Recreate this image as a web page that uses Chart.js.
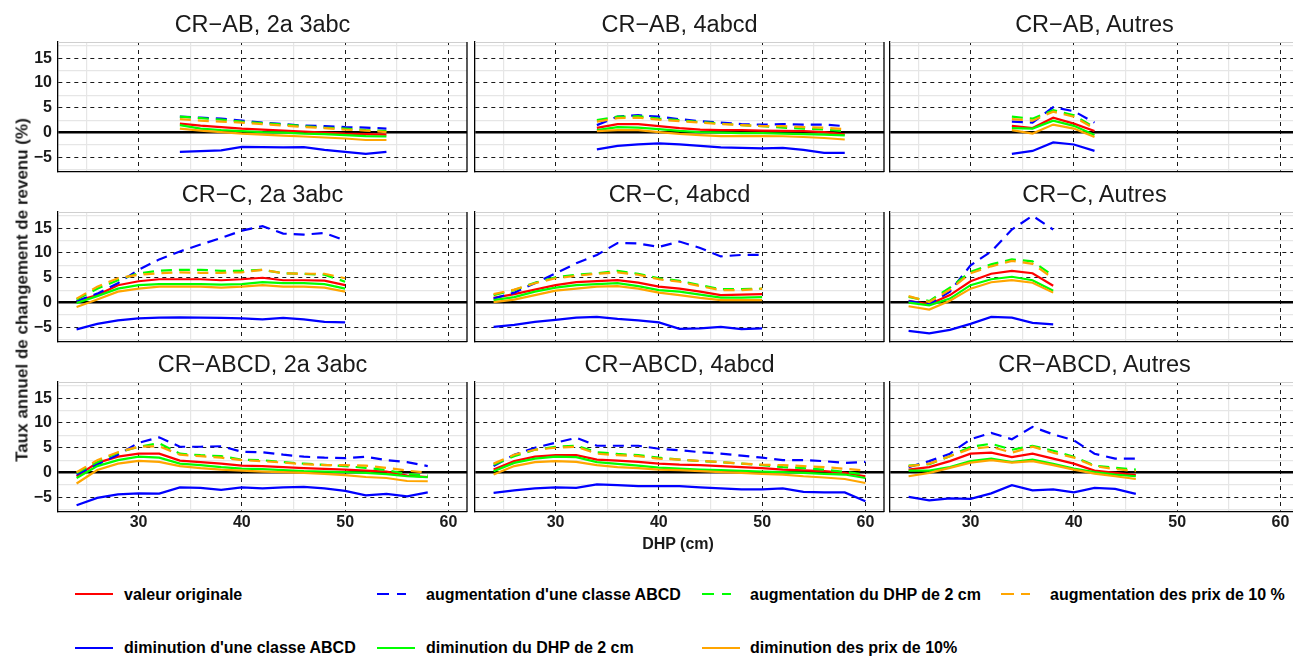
<!DOCTYPE html>
<html lang="fr">
<head>
<meta charset="utf-8">
<title>Taux annuel de changement de revenu</title>
<script src="https://cdn.jsdelivr.net/npm/chart.js@4.4.1/dist/chart.umd.min.js"></script>
<style>
  html, body { margin: 0; padding: 0; background: #ffffff; overflow: hidden; width: 1293px; height: 656px; }
  body { position: relative; font-family: 'Liberation Sans', Arial, Helvetica, sans-serif; color: #1a1a1a; }
  canvas { position: absolute; }
  .title { position: absolute; font-size: 23.5px; line-height: 23.5px; white-space: nowrap; transform: translateX(-50%); }
  .ytitle { position: absolute; font-weight: bold; font-size: 17px; line-height: 17px; white-space: nowrap;
            transform: translate(-50%, -50%) rotate(-90deg); }
  .xtitle { position: absolute; font-weight: bold; font-size: 16px; line-height: 16px; white-space: nowrap; transform: translateX(-50%); }
  .leg-key { position: absolute; height: 2.4px; }
  .leg-text { position: absolute; font-weight: bold; font-size: 16px; line-height: 16px; white-space: nowrap; color: #000; }
</style>
</head>
<body>
<script>
// Facet titles, row by row (CR group) and column by column (site group)
const panelTitles = [
  'CR\u2212AB, 2a 3abc', 'CR\u2212AB, 4abcd', 'CR\u2212AB, Autres',
  'CR\u2212C, 2a 3abc', 'CR\u2212C, 4abcd', 'CR\u2212C, Autres',
  'CR\u2212ABCD, 2a 3abc', 'CR\u2212ABCD, 4abcd', 'CR\u2212ABCD, Autres'
];

// DHP classes (cm) present in each facet
const dhp = [
  [34, 36, 38, 40, 42, 44, 46, 48, 50, 52, 54],
  [34, 36, 38, 40, 42, 44, 46, 48, 50, 52, 54, 56, 58],
  [34, 36, 38, 40, 42],
  [24, 26, 28, 30, 32, 34, 36, 38, 40, 42, 44, 46, 48, 50],
  [24, 26, 28, 30, 32, 34, 36, 38, 40, 42, 44, 46, 48, 50],
  [24, 26, 28, 30, 32, 34, 36, 38],
  [24, 26, 28, 30, 32, 34, 36, 38, 40, 42, 44, 46, 48, 50, 52, 54, 56, 58],
  [24, 26, 28, 30, 32, 34, 36, 38, 40, 42, 44, 46, 48, 50, 52, 54, 56, 58, 60],
  [24, 26, 28, 30, 32, 34, 36, 38, 40, 42, 44, 46]
];

// Annual revenue change rate (%) per scenario, one sub-array per facet
const valeurOriginale = [
  [1.8, 1.4, 1.1, 0.8, 0.6, 0.4, 0.2, 0.0, -0.2, -0.3, -0.4],
  [0.95, 1.7, 1.7, 1.3, 0.9, 0.6, 0.5, 0.5, 0.4, 0.35, 0.3, 0.1, -0.35],
  [1.35, 0.9, 3.0, 1.8, 0.3],
  [0.3, 1.5, 3.5, 4.3, 4.7, 4.7, 4.7, 4.5, 4.7, 5.0, 4.5, 4.5, 4.4, 3.5],
  [0.95, 1.7, 2.6, 3.5, 4.1, 4.3, 4.5, 4.0, 3.2, 2.8, 2.2, 1.5, 1.6, 1.7],
  [0.35, -0.35, 1.5, 4.3, 5.8, 6.4, 5.9, 3.4],
  [-0.75, 1.95, 3.2, 3.8, 3.8, 2.4, 2.1, 1.8, 1.4, 1.3, 1.1, 0.9, 0.75, 0.6, 0.4, 0.2, -0.6, -0.9],
  [0.6, 2.3, 3.2, 3.5, 3.5, 2.6, 2.4, 2.15, 1.8, 1.6, 1.5, 1.3, 1.1, 0.9, 0.6, 0.45, 0.27, -0.07, -0.75],
  [0.6, 1.1, 2.3, 3.8, 4.0, 3.1, 3.8, 2.8, 1.8, 0.4, -0.07, -0.5]
];
const dimClasse = [
  [-3.9, -3.75, -3.6, -2.9, -2.95, -3.0, -2.95, -3.5, -3.9, -4.3, -3.9],
  [-3.4, -2.7, -2.4, -2.2, -2.4, -2.7, -3.0, -3.1, -3.2, -3.1, -3.5, -4.1, -4.1],
  [-4.3, -3.7, -2.0, -2.4, -3.7],
  [-5.4, -4.3, -3.6, -3.2, -3.05, -3.0, -3.05, -3.1, -3.2, -3.4, -3.1, -3.4, -3.9, -4.0],
  [-4.9, -4.5, -3.9, -3.5, -3.05, -2.9, -3.3, -3.6, -4.0, -5.3, -5.2, -4.9, -5.35, -5.2],
  [-5.7, -6.2, -5.5, -4.3, -2.9, -3.05, -4.1, -4.4],
  [-6.6, -5.1, -4.4, -4.2, -4.25, -3.0, -3.1, -3.5, -3.0, -3.2, -3.0, -2.9, -3.2, -3.7, -4.6, -4.3, -4.8, -4.0],
  [-4.1, -3.6, -3.2, -3.0, -3.1, -2.4, -2.55, -2.75, -2.75, -2.75, -3.0, -3.2, -3.4, -3.4, -3.2, -3.9, -4.0, -4.0, -5.8],
  [-4.9, -5.6, -5.2, -5.3, -4.2, -2.55, -3.6, -3.4, -4.0, -3.1, -3.3, -4.3]
];
const augClasse = [
  [3.2, 3.0, 2.8, 2.4, 2.0, 1.7, 1.4, 1.3, 1.1, 1.0, 0.8],
  [1.5, 3.2, 3.5, 3.2, 2.7, 2.3, 2.0, 1.7, 1.6, 1.7, 1.6, 1.6, 1.3],
  [2.2, 2.0, 5.1, 4.3, 2.0],
  [0.3, 1.8, 3.9, 6.6, 8.7, 10.3, 11.7, 13.0, 14.5, 15.4, 13.9, 13.7, 14.0, 12.5],
  [0.8, 2.0, 3.9, 5.9, 7.9, 9.6, 12.0, 11.9, 11.2, 12.3, 11.0, 9.3, 9.6, 9.6],
  [0.3, -0.35, 2.2, 7.5, 10.3, 14.7, 17.5, 14.7],
  [-0.4, 1.6, 3.6, 6.0, 7.1, 5.2, 5.2, 5.3, 4.2, 4.1, 3.6, 3.2, 3.0, 2.9, 3.2, 2.5, 2.1, 1.3],
  [1.3, 3.6, 5.0, 6.0, 7.0, 5.4, 5.4, 5.4, 4.8, 4.5, 4.1, 3.8, 3.4, 3.0, 2.5, 2.5, 2.3, 1.95, 2.15],
  [1.1, 2.3, 3.8, 6.7, 8.0, 6.7, 9.2, 7.7, 6.5, 3.8, 2.8, 2.8]
];
const dimDHP = [
  [1.5, 0.8, 0.5, 0.3, 0.1, 0.0, -0.2, -0.3, -0.5, -0.7, -0.8],
  [0.5, 1.1, 1.0, 0.7, 0.35, 0.1, 0.0, -0.1, -0.1, -0.2, -0.3, -0.4, -0.55],
  [0.9, 0.8, 2.4, 1.35, -0.5],
  [-0.1, 1.3, 2.8, 3.5, 3.7, 3.7, 3.7, 3.6, 3.7, 4.1, 3.9, 3.9, 3.7, 2.8],
  [0.5, 1.1, 2.2, 3.0, 3.5, 3.7, 3.9, 3.3, 2.5, 2.2, 1.6, 1.0, 1.0, 1.1],
  [0.0, -0.55, 0.8, 3.5, 4.7, 5.2, 4.5, 2.4],
  [-1.1, 1.3, 2.5, 3.2, 3.0, 1.8, 1.5, 1.1, 0.8, 0.7, 0.5, 0.3, 0.2, 0.07, -0.07, -0.3, -0.75, -0.95],
  [0.27, 1.95, 2.8, 3.2, 3.1, 2.1, 1.75, 1.4, 1.0, 0.8, 0.6, 0.47, 0.34, 0.2, 0.07, -0.07, -0.27, -0.4, -1.1],
  [0.4, 0.4, 1.1, 2.3, 2.8, 2.1, 2.6, 1.75, 0.8, 0.07, -0.4, -0.75]
];
const augDHP = [
  [3.2, 2.9, 2.6, 2.2, 1.9, 1.6, 1.3, 1.0, 0.8, 0.5, 0.3],
  [2.5, 3.2, 3.3, 2.8, 2.5, 2.1, 1.8, 1.5, 1.3, 1.0, 0.8, 0.6, 0.3],
  [3.2, 2.8, 4.5, 3.5, 1.0],
  [0.6, 2.8, 4.5, 5.9, 6.4, 6.6, 6.6, 6.4, 6.4, 6.6, 5.9, 5.8, 5.6, 4.2],
  [1.5, 2.5, 4.0, 5.1, 5.6, 5.9, 6.4, 5.8, 4.9, 4.4, 3.5, 2.7, 2.7, 2.8],
  [1.15, 0.3, 3.0, 6.2, 7.7, 8.7, 8.3, 5.4],
  [-0.07, 2.1, 4.0, 5.2, 5.9, 3.8, 3.5, 3.3, 2.6, 2.5, 2.1, 1.8, 1.55, 1.3, 0.95, 0.5, -0.3, -0.6],
  [1.6, 3.3, 4.6, 5.2, 5.4, 4.1, 3.75, 3.5, 3.0, 2.6, 2.3, 2.1, 1.8, 1.5, 1.1, 0.9, 0.6, 0.13, -0.4],
  [1.4, 1.7, 3.3, 5.2, 5.8, 4.6, 5.4, 4.4, 3.2, 1.4, 0.95, 0.6]
];
const dimPrix = [
  [0.8, 0.4, 0.1, -0.2, -0.4, -0.6, -0.8, -1.0, -1.2, -1.5, -1.5],
  [0.3, 0.5, 0.5, 0.1, -0.25, -0.5, -0.7, -0.7, -0.7, -0.75, -0.9, -1.1, -1.4],
  [0.5, -0.2, 1.6, 0.8, -0.9],
  [-0.9, 0.6, 2.2, 2.8, 3.2, 3.2, 3.2, 3.0, 3.2, 3.5, 3.2, 3.2, 3.0, 2.2],
  [0.1, 0.6, 1.5, 2.4, 2.8, 3.2, 3.3, 2.8, 2.0, 1.5, 0.95, 0.5, 0.5, 0.5],
  [-0.75, -1.4, 0.35, 2.8, 4.1, 4.5, 4.0, 2.0],
  [-2.2, 0.5, 1.8, 2.35, 2.15, 1.3, 0.9, 0.6, 0.4, 0.2, 0.07, -0.07, -0.27, -0.5, -0.9, -1.1, -1.7, -1.75],
  [-0.4, 1.3, 2.1, 2.3, 2.15, 1.5, 1.1, 0.9, 0.6, 0.47, 0.27, 0.07, -0.07, -0.27, -0.4, -0.75, -1.0, -1.3, -2.1],
  [-0.75, -0.07, 0.95, 2.0, 2.5, 2.0, 2.3, 1.5, 0.6, -0.2, -0.75, -1.3]
];
const augPrix = [
  [2.7, 2.4, 2.2, 2.0, 1.7, 1.4, 1.1, 0.9, 0.6, 0.4, 0.1],
  [2.2, 2.9, 3.0, 2.6, 2.3, 2.0, 1.7, 1.5, 1.3, 1.3, 1.1, 1.0, 0.7],
  [2.7, 2.4, 4.2, 3.2, 0.8],
  [0.8, 3.2, 4.9, 5.6, 5.9, 6.1, 6.0, 6.0, 6.1, 6.6, 5.9, 5.8, 5.8, 4.9],
  [1.7, 2.6, 3.9, 4.9, 5.4, 5.8, 6.1, 5.6, 4.7, 4.2, 3.3, 2.5, 2.5, 2.8],
  [1.3, 0.1, 2.6, 5.9, 7.3, 8.4, 7.8, 4.9],
  [0.07, 2.5, 4.1, 5.2, 5.3, 3.6, 3.3, 3.0, 2.5, 2.3, 2.0, 1.7, 1.5, 1.5, 1.4, 0.95, 0.4, -0.07],
  [1.8, 3.6, 4.6, 5.0, 5.2, 3.8, 3.5, 3.3, 2.8, 2.6, 2.35, 2.1, 1.8, 1.6, 1.5, 1.3, 1.1, 0.75, 0.4],
  [1.3, 1.8, 3.3, 4.8, 5.2, 4.0, 5.2, 4.0, 3.0, 1.3, 0.7, 0.27]
];

// Axis breaks: grid positions and the ones that carry a label
const yTicks = [-7.5, -5, -2.5, 0, 2.5, 5, 7.5, 10, 12.5, 15, 17.5];
const yLabels = [-5, 0, 5, 10, 15];
const xTicks = [25, 30, 35, 40, 45, 50, 55, 60];
const xLabels = [30, 40, 50, 60];

// Scenarios in legend order (filled column by column over two rows)
const series = [
  { label: 'valeur originale',               data: valeurOriginale, color: '#ff0000', dashed: false },
  { label: "diminution d'une classe ABCD",   data: dimClasse,       color: '#0000ff', dashed: false },
  { label: "augmentation d'une classe ABCD", data: augClasse,       color: '#0000ff', dashed: true },
  { label: 'diminution du DHP de 2 cm',      data: dimDHP,          color: '#00ff00', dashed: false },
  { label: 'augmentation du DHP de 2 cm',    data: augDHP,          color: '#00ff00', dashed: true },
  { label: 'diminution des prix de 10%',     data: dimPrix,         color: '#ffa500', dashed: false },
  { label: 'augmentation des prix de 10 %',  data: augPrix,         color: '#ffa500', dashed: true }
];

// ---- layout of the facet grid ----
const COL_LEFT = [58, 475, 890];
const ROW_TOP = [42, 212, 382];
const PANEL_W = 409, PANEL_H = 130;
const PAD_L = 64, PAD_R = 16, PAD_T = 8, PAD_B = 34;
const X_MIN = 22.2, X_MAX = 61.8, Y_MIN = -7.95, Y_MAX = 18.25;
const TEXT = '#1a1a1a';
const LINE_DASH = [11, 7];

Chart.defaults.font.family = "'Liberation Sans', Arial, Helvetica, sans-serif";

const fmt = v => (v < 0 ? '\u2212' + Math.abs(v) : String(v));
const labelFont = { size: 16, weight: 'bold' };
const blankFont = { size: 1 };

// thin frame on the top (grey) and right (black) edges of each facet
const framePlugin = {
  id: 'facetFrame',
  afterDatasetsDraw(chart) {
    const { ctx, chartArea: a } = chart;
    ctx.save();
    ctx.lineWidth = 1;
    ctx.strokeStyle = '#cfcfcf';
    ctx.beginPath(); ctx.moveTo(a.left, a.top + 0.5); ctx.lineTo(a.right, a.top + 0.5); ctx.stroke();
    ctx.lineWidth = 1.3;
    ctx.strokeStyle = '#000';
    ctx.beginPath(); ctx.moveTo(a.right, a.top); ctx.lineTo(a.right, a.bottom); ctx.stroke();
    ctx.restore();
  }
};

function addText(cls, text, left, top) {
  const d = document.createElement('div');
  d.className = cls;
  d.textContent = text;
  d.style.left = left + 'px';
  d.style.top = top + 'px';
  document.body.appendChild(d);
  return d;
}

function makePanel(p) {
  const r = Math.floor(p / 3), c = p % 3;
  const w = PAD_L + PANEL_W + PAD_R, h = PAD_T + PANEL_H + PAD_B;
  const canvas = document.createElement('canvas');
  canvas.width = w; canvas.height = h;
  canvas.style.left = (COL_LEFT[c] - PAD_L) + 'px';
  canvas.style.top = (ROW_TOP[r] - PAD_T) + 'px';
  canvas.style.width = w + 'px';
  canvas.style.height = h + 'px';
  document.body.appendChild(canvas);

  addText('title', panelTitles[p], COL_LEFT[c] + PANEL_W / 2, ROW_TOP[r] - 29);

  const datasets = series.map((s, i) => ({
    label: s.label,
    data: dhp[p].map((x, k) => ({ x: x, y: s.data[p][k] })),
    borderColor: s.color,
    backgroundColor: s.color,
    borderWidth: 2.2,
    borderDash: s.dashed ? LINE_DASH : [],
    pointRadius: 0,
    pointHoverRadius: 0,
    fill: false,
    tension: 0,
    order: series.length - 1 - i
  }));

  new Chart(canvas, {
    type: 'line',
    data: { datasets },
    plugins: [framePlugin],
    options: {
      responsive: false,
      animation: false,
      devicePixelRatio: 1,
      events: [],
      layout: { padding: { left: 0, top: PAD_T, right: PAD_R, bottom: 0 } },
      plugins: { legend: { display: false }, tooltip: { enabled: false }, title: { display: false } },
      scales: {
        x: {
          type: 'linear',
          min: X_MIN, max: X_MAX,
          afterBuildTicks: s => { s.ticks = xTicks.map(v => ({ value: v })); },
          afterFit: s => { s.height = PAD_B; },
          ticks: {
            display: r === 2, autoSkip: false, maxRotation: 0, padding: 1,
            color: TEXT,
            font: ctx => (ctx.tick && xLabels.includes(ctx.tick.value) ? labelFont : blankFont),
            callback: v => (xLabels.includes(v) ? String(v) : '')
          },
          grid: {
            drawTicks: false,
            color: ctx => (ctx.tick && xLabels.includes(ctx.tick.value) ? '#1a1a1a' : '#e6e6e6'),
            lineWidth: ctx => (ctx.tick && xLabels.includes(ctx.tick.value) ? 1 : 1.2)
          },
          border: {
            display: true, color: '#000', width: 1.3,
            dash: ctx => (ctx.tick && xLabels.includes(ctx.tick.value) ? [4, 4] : [])
          }
        },
        y: {
          type: 'linear',
          min: Y_MIN, max: Y_MAX,
          afterBuildTicks: s => { s.ticks = yTicks.map(v => ({ value: v })); },
          afterFit: s => { s.width = PAD_L; },
          ticks: {
            display: c === 0, autoSkip: false, padding: 6,
            color: TEXT,
            font: ctx => (ctx.tick && yLabels.includes(ctx.tick.value) ? labelFont : blankFont),
            callback: v => (yLabels.includes(v) ? fmt(v) : '')
          },
          grid: {
            drawTicks: false,
            color: ctx => {
              if (!ctx.tick) return '#e6e6e6';
              if (ctx.tick.value === 0) return '#000';
              return yLabels.includes(ctx.tick.value) ? '#1a1a1a' : '#e6e6e6';
            },
            lineWidth: ctx => {
              if (!ctx.tick) return 1.2;
              if (ctx.tick.value === 0) return 2.4;
              return yLabels.includes(ctx.tick.value) ? 1 : 1.2;
            }
          },
          border: {
            display: true, color: '#000', width: 1.3,
            dash: ctx => (ctx.tick && ctx.tick.value !== 0 && yLabels.includes(ctx.tick.value) ? [4, 4] : [])
          }
        }
      }
    }
  });
}

for (let p = 0; p < 9; p++) makePanel(p);

// shared axis titles
addText('ytitle', 'Taux annuel de changement de revenu (%)', 22, 290);
addText('xtitle', 'DHP (cm)', 678, 536);

// legend: two rows, filled column by column
const LEG_KEY_X = [75, 377, 702, 1001];
const LEG_TEXT_X = [124, 426, 750, 1050];
const LEG_ROW_Y = [594, 648];
const LEG_TEXT_TOP = [587, 640];
series.forEach((s, i) => {
  const col = Math.floor(i / 2), row = i % 2;
  const key = document.createElement('div');
  key.className = 'leg-key';
  key.style.left = LEG_KEY_X[col] + 'px';
  key.style.top = (LEG_ROW_Y[row] - 1.2) + 'px';
  if (s.dashed) {
    key.style.width = '29px';
    key.style.background = 'linear-gradient(to right, ' + s.color + ' 0 12.5px, transparent 12.5px 20.5px, ' + s.color + ' 20.5px 29px)';
  } else {
    key.style.width = '38px';
    key.style.background = s.color;
  }
  document.body.appendChild(key);
  addText('leg-text', s.label, LEG_TEXT_X[col], LEG_TEXT_TOP[row]);
});
</script>
</body>
</html>
